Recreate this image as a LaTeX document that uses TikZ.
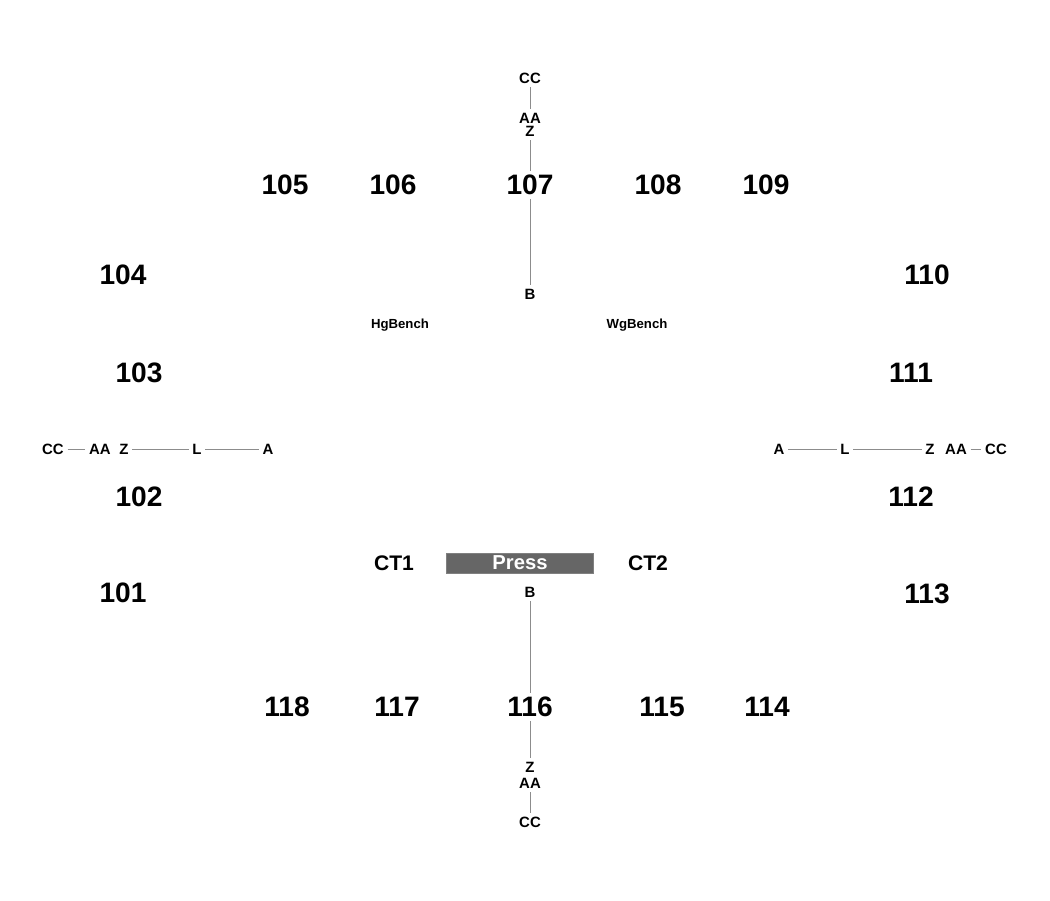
\documentclass[tikz,border=0pt]{standalone}
\usepackage{fontspec}
\setmainfont{Liberation Sans}
\usepackage{xcolor}
\usepackage{tikz}
\usetikzlibrary{calc}

\definecolor{pressgray}{RGB}{102,102,102}
\definecolor{linkgray}{RGB}{140,140,140}

\begin{document}
\begin{tikzpicture}[x=0.02cm, y=-0.02cm, every node/.style={inner sep=2pt, font=\bfseries}, room/.style={font=\fontsize{16}{18}\bfseries\selectfont}, tank/.style={font=\fontsize{12}{14}\bfseries\selectfont}, pt/.style={font=\fontsize{8.5}{10}\bfseries\selectfont}, bench/.style={font=\fontsize{7.5}{9}\bfseries\selectfont}, link/.style={draw=linkgray, line width=0.5pt}]
  \useasboundingbox (0,0) rectangle (1050,900);
  % rooms
  \node[room](r105) at (285,185){105};
  \node[room](r106) at (393,185){106};
  \node[room](r107) at (530,185){107};
  \node[room](r108) at (658,185){108};
  \node[room](r109) at (766,185){109};
  \node[room](r104) at (123,275){104};
  \node[room](r110) at (927,275){110};
  \node[room](r103) at (139,373){103};
  \node[room](r111) at (911,373){111};
  \node[room](r102) at (139,497){102};
  \node[room](r112) at (911,497){112};
  \node[room](r101) at (123,593){101};
  \node[room](r113) at (927,594){113};
  \node[room](r118) at (287,707){118};
  \node[room](r117) at (397,707){117};
  \node[room](r116) at (530,707){116};
  \node[room](r115) at (662,707){115};
  \node[room](r114) at (767,707){114};
  \node[tank](ct1) at (394,563){CT1};
  \node[tank](ct2) at (648,563){CT2};
  % press
  \node[fill=pressgray, draw=gray, minimum width=2.94cm, minimum height=0.4cm, inner sep=0pt, text=white, font=\fontsize{11.5}{12}\bfseries\selectfont](press) at (520,563){Press};
  \node[bench](hg) at (400,325){HgBench};
  \node[bench](wg) at (637,325){WgBench};
  % top
  \node[pt](tcc) at (530,78){CC};
  \node[pt](taa) at (530,118){AA};
  \node[pt](tz) at (530,131){Z};
  \node[pt](tb) at (530,294){B};
  \draw[link] (tcc) -- (taa);
  \draw[link] (tz) -- (r107);
  \draw[link] (r107) -- (tb);
  % left
  \node[pt](lcc) at (53,449){CC};
  \node[pt](laa) at (100,449){AA};
  \node[pt](lz) at (124,449){Z};
  \node[pt](ll) at (197,449){L};
  \node[pt](la) at (268,449){A};
  \draw[link] (lcc) -- (laa);
  \draw[link] (lz) -- (ll);
  \draw[link] (ll) -- (la);
  % right
  \node[pt](ra) at (779,449){A};
  \node[pt](rl) at (845,449){L};
  \node[pt](rz) at (930,449){Z};
  \node[pt](raa) at (956,449){AA};
  \node[pt](rcc) at (996,449){CC};
  \draw[link] (ra) -- (rl);
  \draw[link] (rl) -- (rz);
  \draw[link] (raa) -- (rcc);
  % bottom
  \node[pt](bb) at (530,592){B};
  \node[pt](bz) at (530,767){Z};
  \node[pt](baa) at (530,783){AA};
  \node[pt](bcc) at (530,822){CC};
  \draw[link] (bb) -- (r116);
  \draw[link] (r116) -- (bz);
  \draw[link] (baa) -- (bcc);
\end{tikzpicture}
\end{document}
